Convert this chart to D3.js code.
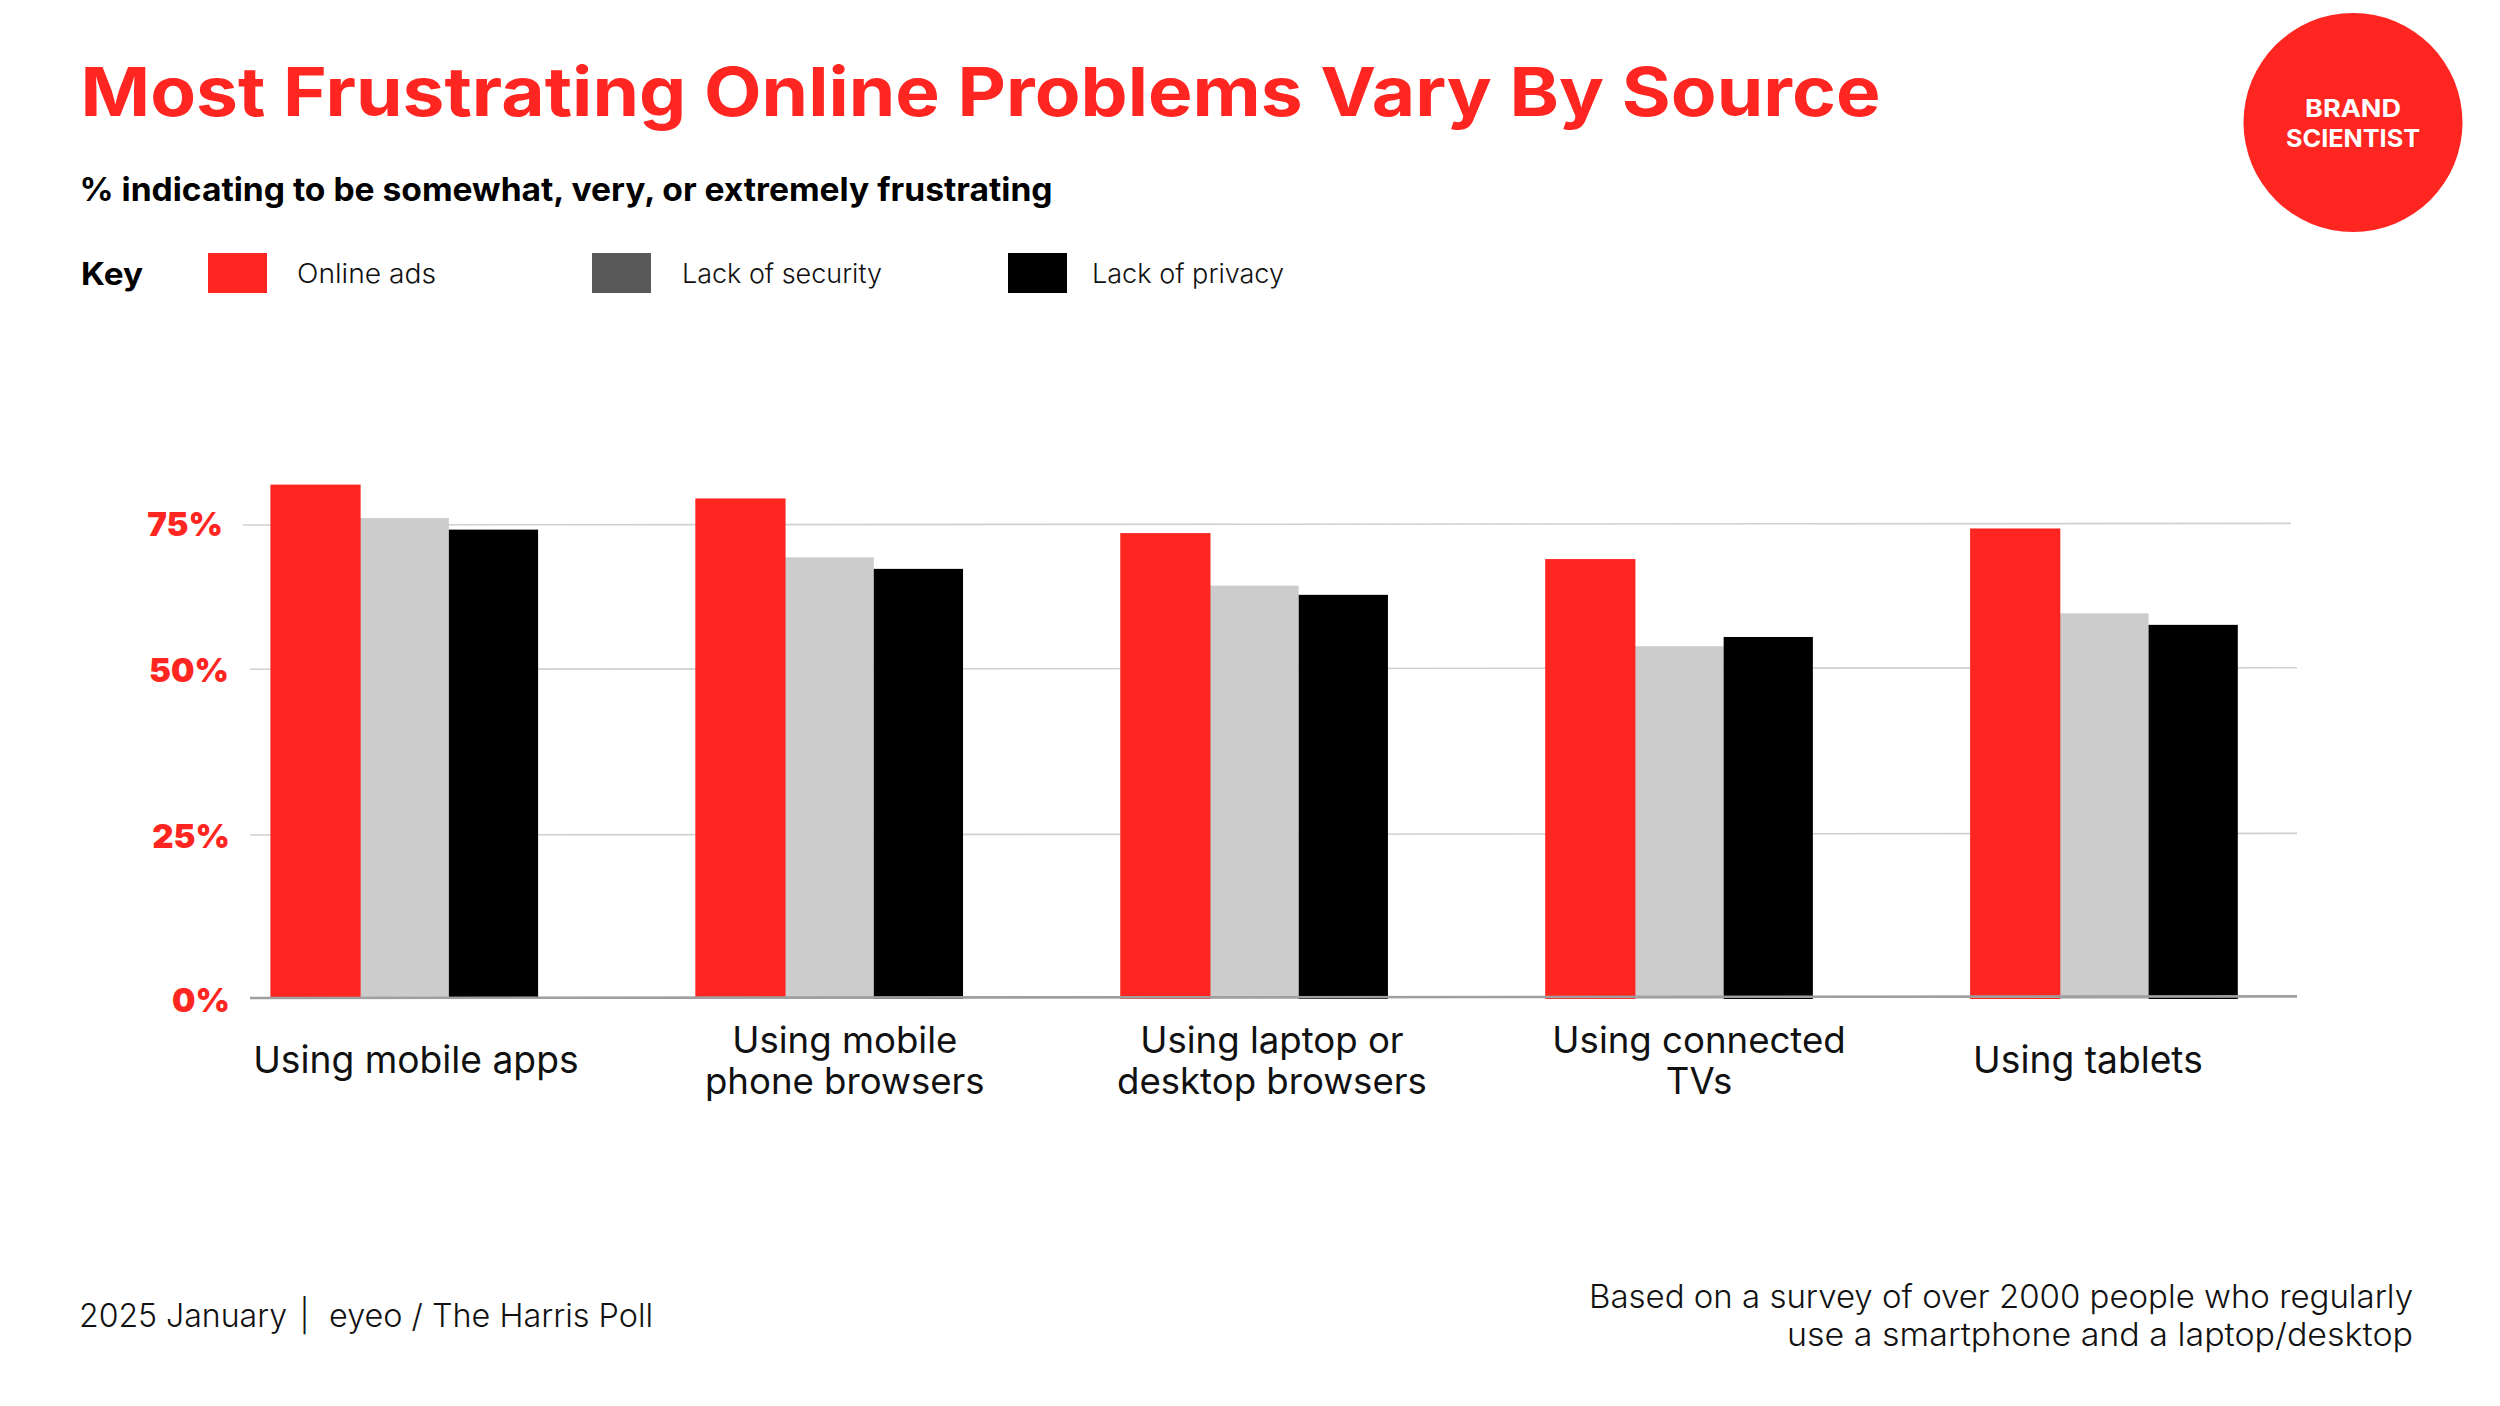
<!DOCTYPE html>
<html><head><meta charset="utf-8">
<script src="https://cdn.jsdelivr.net/npm/d3@7/dist/d3.min.js"></script>
<style>
html,body{margin:0;padding:0;background:#fff}
svg{display:block}
text{font-family:Inter,"Noto Sans",sans-serif}
</style></head><body>
<svg id="c" width="2500" height="1406"></svg>
<script>
// ---- data ----
const categories = ["Using mobile apps","Using mobile|phone browsers","Using laptop or|desktop browsers","Using connected|TVs","Using tablets"];
const seriesNames = ["Online ads","Lack of security","Lack of privacy"];
const onlineAds = [82,79.6,73.6,69.1,74.4];
const lackOfSecurity = [76.2,69.4,64.5,54,59.7];
const lackOfPrivacy = [74.2,67.4,62.9,55.6,57.7];
const tickValues = [0,25,50,75];
const tickLabels = ["0%","25%","50%","75%"];
const titleText = "Most Frustrating Online Problems Vary By Source";
const subtitleText = "% indicating to be somewhat, very, or extremely frustrating";
const footerLeft = ["2025 January ","| ","eyeo / The Harris Poll"];
const footerRight = ["Based on a survey of over 2000 people who regularly","use a smartphone and a laptop/desktop"];

// ---- style ----
const RED="#ff2622", GREY_BAR="#cccccc", GREY_KEY="#595959", BLACK="#000000";
const barColors=[RED,GREY_BAR,BLACK], keyColors=[RED,GREY_KEY,BLACK];

const svg=d3.select("#c");
function T(x,y,s,size,weight,fill,w,anchor){
  const t=svg.append("text").attr("x",x).attr("y",y).text(s)
    .attr("font-size",size).attr("font-weight",weight).attr("fill",fill)
    .attr("text-anchor",anchor||"start").style("white-space","pre");
  if(w) t.attr("textLength",w).attr("lengthAdjust","spacingAndGlyphs");
  return t;
}

// ---- scales ----
const x0=d3.scaleBand().domain(categories).range([270.4,2237.8]).paddingInner(0.37).paddingOuter(0).align(0);
const x1=d3.scaleBand().domain(seriesNames).range([0,x0.bandwidth()]);
// the reference's gridlines are not evenly spaced, so the value scale is piecewise
const y=d3.scaleLinear().domain(tickValues).range([998,835,669.3,525]);

// ---- grid + axis ----
const gridTilt=1.6;
const tickNudgeX=[5,5,4,-2], tickNudgeY=[2,1,0,-1.5];
const axisG=svg.append("g").attr("class","y-axis").attr("transform","translate(250,0)")
  .call(d3.axisLeft(y).tickValues(tickValues).tickSize(0).tickPadding(25).tickFormat((d,i)=>tickLabels[i]));
axisG.select(".domain").remove();
axisG.selectAll("text").attr("font-size",33).attr("font-weight",900).attr("fill",RED)
  .style("font-family","Inter").attr("dy",".36em")
  .attr("dx",(d,i)=>tickNudgeX[i]).attr("transform",(d,i)=>`translate(0,${tickNudgeY[i]})`);
const grid=svg.append("g");
grid.selectAll("line").data(tickValues.slice(1)).join("line")
  .attr("x1",d=>d===75?243:250).attr("x2",d=>d===75?2291:2297)
  .attr("y1",d=>y(d)).attr("y2",d=>y(d)-gridTilt)
  .attr("stroke","#d0d0d0").attr("stroke-width",1.6);

// ---- bars ----
const seriesValues=[onlineAds,lackOfSecurity,lackOfPrivacy];
[1,2,0].forEach(si=>{
  const s=seriesNames[si];
  svg.append("g").selectAll("rect").data(seriesValues[si]).join("rect")
    .attr("x",(d,i)=>x0(categories[i])+x1(s))
    .attr("width",x1.bandwidth()+(si===0?1:0))
    .attr("y",d=>y(d)).attr("height",d=>y(0)-y(d)+1)
    .attr("fill",barColors[si]);
});
// baseline above bars
svg.append("line").attr("x1",250).attr("x2",2297)
  .attr("y1",y(0)).attr("y2",y(0)-gridTilt).attr("stroke","#9f9f9f").attr("stroke-width",2.6);

// ---- category labels ----
const labelShift=[11.6,15.6,17.8,20,-16];
categories.forEach((c,i)=>{
  const cx=x0(c)+x0.bandwidth()/2+labelShift[i];
  const lines=c.split("|");
  lines.forEach((l,j)=>{
    const yy = lines.length===1 ? 1073 : 1052.5+41.5*j;
    T(cx,yy,l,lines.length===1?37.2:36.6,400,"#111","", "middle");
  });
});

// ---- titles ----
T(80.5,116,titleText,68,700,RED,1800);
T(79.5,201,subtitleText,32,700,"#000",973);

// ---- legend ----
T(81,285,"Key",31,700,"#000",62);
const keyX=[208,592,1008], keyW=[139,200,192], keyTx=[297,682,1092];
seriesNames.forEach((s,i)=>{
  svg.append("rect").attr("x",keyX[i]).attr("y",253).attr("width",59).attr("height",40).attr("fill",keyColors[i]);
  T(keyTx[i],283,s,27,300,"#111",keyW[i]);
});

// ---- logo ----
svg.append("circle").attr("cx",2353).attr("cy",122.5).attr("r",109.5).attr("fill",RED);
T(2353,117,"BRAND",24,700,"#fff",96,"middle");
T(2353,147,"SCIENTIST",24,700,"#fff",134,"middle");

// ---- footer ----
const fl=svg.append("text").attr("y",1326.5).attr("font-size",32).attr("font-weight",300).attr("fill","#111");
const flX=[79,299.5,329], flW=[217,null,324];
footerLeft.forEach((s,i)=>{
  const t=fl.append("tspan").attr("x",flX[i]).text(s);
  if(flW[i]) t.attr("textLength",flW[i]).attr("lengthAdjust","spacingAndGlyphs");
});
T(2413,1307.5,footerRight[0],32,300,"#111",824,"end");
T(2413,1345.5,footerRight[1],32,300,"#111",626,"end");
</script></body></html>
